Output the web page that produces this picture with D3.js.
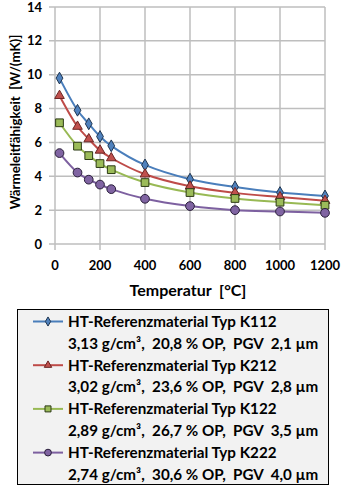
<!doctype html>
<html lang="de">
<head>
<meta charset="utf-8">
<script src="https://d3js.org/d3.v7.min.js"></script>
<style>
  body { margin: 0; background: #fff; }
  text { font-family: Lato, "Open Sans", sans-serif; font-weight: bold; fill: #000; white-space: pre; }
</style>
</head>
<body>
<svg id="chart" width="343" height="486"></svg>
<script>
// Temperatur in °C
var temps = [20, 100, 150, 200, 250, 400, 600, 800, 1000, 1200];

// Wärmeleitfähigkeit W/(mK)
var k112 = [9.8, 7.9, 7.1, 6.35, 5.8, 4.67, 3.83, 3.37, 3.04, 2.84];
var k212 = [8.76, 6.94, 6.2, 5.53, 5.08, 4.12, 3.41, 3.02, 2.78, 2.56];
var k122 = [7.16, 5.78, 5.22, 4.75, 4.39, 3.63, 3.04, 2.69, 2.47, 2.29];
var k222 = [5.37, 4.22, 3.8, 3.51, 3.24, 2.67, 2.24, 2.0, 1.92, 1.84];

var seriesNames = ["HT-Referenzmaterial Typ K112", "HT-Referenzmaterial Typ K212",
                   "HT-Referenzmaterial Typ K122", "HT-Referenzmaterial Typ K222"];
var seriesInfo = ["3,13 g/cm³,  20,8 % OP,  PGV  2,1 µm", "3,02 g/cm³,  23,6 % OP,  PGV  2,8 µm",
                  "2,89 g/cm³,  26,7 % OP,  PGV  3,5 µm", "2,74 g/cm³,  30,6 % OP,  PGV  4,0 µm"];

var xTicks = [0, 200, 400, 600, 800, 1000, 1200];
var yTicks = [0, 2, 4, 6, 8, 10, 12, 14];

var series = [
  { name: seriesNames[0], info: seriesInfo[0], values: k112, line: "#4a7ebb", fill: "#4f81bd", stroke: "#1f3550", shape: d3.symbolDiamond, size: 40 },
  { name: seriesNames[1], info: seriesInfo[1], values: k212, line: "#be4b48", fill: "#c0504d", stroke: "#6b2523", shape: d3.symbolTriangle, size: 40 },
  { name: seriesNames[2], info: seriesInfo[2], values: k122, line: "#98b954", fill: "#9bbb59", stroke: "#2c3a14", shape: d3.symbolSquare, size: 60 },
  { name: seriesNames[3], info: seriesInfo[3], values: k222, line: "#7d60a0", fill: "#8064a2", stroke: "#2a1f3a", shape: d3.symbolCircle, size: 60 }
];

var svg = d3.select("#chart");

var x = d3.scaleLinear().domain([0, 1200]).range([55, 325]);
var y = d3.scaleLinear().domain([0, 14]).range([244, 7]);

// gitter
var grid = svg.append("g");
grid.selectAll("line.h").data(yTicks).enter().append("line")
  .attr("x1", 49).attr("x2", x(1200))
  .attr("y1", function (d) { return y(d); }).attr("y2", function (d) { return y(d); })
  .attr("stroke", "#bebebe").attr("stroke-width", 1.5);
grid.selectAll("line.v").data(xTicks).enter().append("line")
  .attr("x1", function (d) { return x(d); }).attr("x2", function (d) { return x(d); })
  .attr("y1", y(14)).attr("y2", 250)
  .attr("stroke", "#bebebe").attr("stroke-width", 1.5);

// tick labels
svg.append("g").selectAll("text").data(yTicks).enter().append("text")
  .attr("x", 42).attr("y", function (d) { return y(d) + 4.5; })
  .attr("text-anchor", "end").style("font-size", "13px")
  .text(function (d) { return d; });
svg.append("g").selectAll("text").data(xTicks).enter().append("text")
  .attr("x", function (d) { return x(d); }).attr("y", 270)
  .attr("text-anchor", "middle").style("font-size", "13px")
  .text(function (d) { return d; });

// achsentitel
svg.append("text").attr("x", 188).attr("y", 296)
  .attr("text-anchor", "middle").style("font-size", "16px")
  .text("Temperatur  [°C]");
svg.append("text").attr("transform", "translate(19.5,122) rotate(-90)")
  .attr("text-anchor", "middle").style("font-size", "13.3px")
  .text("Wärmeleitfähigkeit  [W/(mK)]");

// linien + marker
var line = d3.line()
  .x(function (d, i) { return x(temps[i]); })
  .y(function (d) { return y(d); })
  .curve(d3.curveCatmullRom);

series.forEach(function (s) {
  svg.append("path").datum(s.values)
    .attr("d", line).attr("fill", "none")
    .attr("stroke", s.line).attr("stroke-width", 2);
  svg.append("g").selectAll("path").data(s.values).enter().append("path")
    .attr("transform", function (d, i) { return "translate(" + x(temps[i]) + "," + y(d) + ")"; })
    .attr("d", d3.symbol().type(s.shape).size(s.size))
    .attr("fill", s.fill).attr("stroke", s.stroke).attr("stroke-width", 1);
});

// legende
var lg = svg.append("g");
lg.append("rect").attr("x", 17.5).attr("y", 309.5).attr("width", 311).attr("height", 175)
  .attr("fill", "#f2f2f2").attr("stroke", "#000").attr("stroke-width", 1);

var row = lg.selectAll("g").data(series).enter().append("g")
  .attr("transform", function (d, i) { return "translate(0," + (321.5 + i * 43.7) + ")"; });
row.append("line").attr("x1", 33).attr("x2", 63).attr("y1", 0).attr("y2", 0)
  .attr("stroke", function (d) { return d.line; }).attr("stroke-width", 2);
row.append("path").attr("transform", "translate(48,0)")
  .attr("d", function (d) { return d3.symbol().type(d.shape).size(d.size * 0.6)(); })
  .attr("fill", function (d) { return d.fill; })
  .attr("stroke", function (d) { return d.stroke; }).attr("stroke-width", 1);
row.append("text").attr("x", 68).attr("y", 5.5).style("font-size", "15.2px")
  .text(function (d) { return d.name; });
row.append("text").attr("x", 68).attr("y", 27).style("font-size", "15.2px")
  .text(function (d) { return d.info; });
</script>
</body>
</html>
